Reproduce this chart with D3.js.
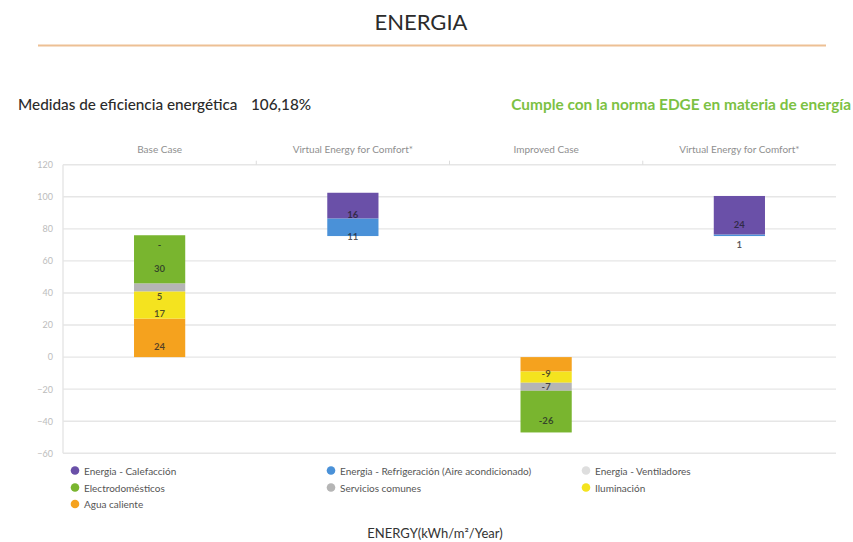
<!DOCTYPE html>
<html>
<head>
<meta charset="utf-8">
<script src="https://cdn.jsdelivr.net/npm/d3@7"></script>
<style>
  html, body { margin: 0; padding: 0; background: #fff; }
  svg { display: block; }
  text { font-family: Lato, "Open Sans", sans-serif; }
</style>
</head>
<body>
<svg id="chart" width="853" height="542"></svg>
<script>
// Categories shown across the top of the plot
const categories = ["Base Case", "Virtual Energy for Comfort*", "Improved Case", "Virtual Energy for Comfort*"];

// Invisible starting level of each column (kWh/m²/Year)
const columnBase = [0, 75.5, 0, 75.5];

// Series values per column (null = no segment)
const aguaCaliente      = [24, null, -9, null];
const iluminacion       = [17, null, -7, null];
const serviciosComunes  = [5, null, -5, null];
const electrodomesticos = [30, null, -26, null];
const ventiladores      = [0, null, null, null];
const refrigeracion     = [null, 11, null, 1];
const calefaccion       = [null, 16, null, 24];

const seriesNames = [
  "Agua caliente", "Iluminación", "Servicios comunes", "Electrodomésticos",
  "Energía - Ventiladores", "Energía - Refrigeración (Aire acondicionado)", "Energía - Calefacción"
];
const seriesValues = [aguaCaliente, iluminacion, serviciosComunes, electrodomesticos,
                      ventiladores, refrigeracion, calefaccion];
const seriesColors = ["#f5a21e", "#f4e31f", "#b5b5b5", "#79b52f", "#dedede", "#4a91d8", "#6a50a8"];

// Segments whose value is not printed
const unlabelled = [["Servicios comunes", 2]];

// Y axis ticks
const yTicks = [-60, -40, -20, 0, 20, 40, 60, 80, 100, 120];

// Legend layout (three columns)
const legendRows = [
  ["Energía - Calefacción", "Energía - Refrigeración (Aire acondicionado)", "Energía - Ventiladores"],
  ["Electrodomésticos", "Servicios comunes", "Iluminación"],
  ["Agua caliente"]
];
const legendLabels = {
  "Energía - Calefacción": "Energia - Calefacción",
  "Energía - Refrigeración (Aire acondicionado)": "Energia - Refrigeración (Aire acondicionado)",
  "Energía - Ventiladores": "Energia - Ventiladores"
};

const svg = d3.select("#chart");

// Header
svg.append("text").attr("x", 421).attr("y", 30).attr("text-anchor", "middle")
  .attr("font-size", 22).attr("fill", "#2b2b2b").text("ENERGIA");
svg.append("line").attr("x1", 38).attr("x2", 826).attr("y1", 45.5).attr("y2", 45.5)
  .attr("stroke", "#edc094").attr("stroke-width", 2);

svg.append("text").attr("x", 18).attr("y", 110).attr("font-size", 15.3).attr("fill", "#2b2b2b")
  .attr("font-weight", 500)
  .text("Medidas de eficiencia energética");
svg.append("text").attr("x", 251).attr("y", 110).attr("font-size", 15.3).attr("fill", "#2b2b2b")
  .attr("font-weight", 500)
  .text("106,18%");
svg.append("text").attr("x", 851).attr("y", 110).attr("text-anchor", "end")
  .attr("font-size", 15.4).attr("font-weight", 700).attr("fill", "#7cc143")
  .text("Cumple con la norma EDGE en materia de energía");

// Scales
const plotLeft = 63, plotRight = 836, plotTop = 164.7, plotBottom = 453.3;
const x = d3.scaleBand().domain(d3.range(categories.length)).range([plotLeft, plotRight]).padding(0);
const y = d3.scaleLinear().domain([-60, 120]).range([plotBottom, plotTop]);
const barW = x.bandwidth() * 0.265;

// Grid lines
svg.append("g").selectAll("line").data(yTicks).join("line")
  .attr("x1", plotLeft).attr("x2", plotRight)
  .attr("y1", d => y(d)).attr("y2", d => y(d))
  .attr("stroke", "#e6e6e6").attr("stroke-width", 1.4);
svg.append("line").attr("x1", plotLeft).attr("x2", plotLeft).attr("y1", plotTop).attr("y2", plotBottom)
  .attr("stroke", "#e6e6e6").attr("stroke-width", 1.4);

// Y axis
const yAxis = svg.append("g").attr("transform", `translate(${plotLeft - 10},0)`)
  .call(d3.axisLeft(y).tickValues(yTicks).tickSize(0).tickPadding(0));
yAxis.select(".domain").remove();
yAxis.selectAll("text").attr("font-size", 9).attr("fill", "#bcbcbc")
  .attr("font-family", "Lato, sans-serif");

// Top category axis
const xAxis = svg.append("g").attr("transform", `translate(0,${plotTop})`)
  .call(d3.axisTop(x).tickFormat(i => categories[i]).tickSize(0).tickPadding(12));
xAxis.select(".domain").remove();
xAxis.selectAll("text").attr("font-size", 10).attr("fill", "#8f8f8f")
  .attr("font-family", "Lato, sans-serif");
// small separators between categories
svg.append("g").selectAll("line").data(d3.range(1, categories.length)).join("line")
  .attr("x1", i => x(i)).attr("x2", i => x(i)).attr("y1", plotTop - 4).attr("y2", plotTop)
  .attr("stroke", "#dcdcdc");

// Stack
const rows = categories.map((c, i) => {
  const r = { idx: i, base: columnBase[i] };
  seriesNames.forEach((n, k) => { r[n] = seriesValues[k][i] == null ? 0 : seriesValues[k][i]; });
  return r;
});
const stack = d3.stack().keys(["base", ...seriesNames]).offset(d3.stackOffsetDiverging);
const stacked = stack(rows);

const color = d3.scaleOrdinal().domain(seriesNames).range(seriesColors);

const barsG = svg.append("g");
const labelsG = svg.append("g");
stacked.forEach((s, si) => {
  if (s.key === "base") return;
  const k = seriesNames.indexOf(s.key);
  s.forEach((seg, i) => {
    const v = seriesValues[k][i];
    if (v == null) return;
    let lo = seg[0], hi = seg[1];
    if (v === 0) {
      // an empty segment sits on top of the positive stack below it
      const topSoFar = d3.max(stacked.slice(0, si), p => p[i][1]);
      lo = hi = topSoFar;
    }
    const y0 = y(lo), y1 = y(hi);
    const cx = x(i) + x.bandwidth() / 2;
    if (v !== 0) {
      barsG.append("rect")
        .attr("x", cx - barW / 2).attr("width", barW)
        .attr("y", Math.min(y0, y1)).attr("height", Math.abs(y1 - y0))
        .attr("fill", color(s.key));
    }
    if (unlabelled.some(u => u[0] === s.key && u[1] === i)) return;
    labelsG.append("text")
      .attr("x", cx).attr("y", (y0 + y1) / 2 + 9)
      .attr("text-anchor", "middle").attr("dominant-baseline", "central")
      .attr("font-size", 9.5).attr("font-weight", 700)
      .attr("fill", "rgba(30,30,40,0.75)")
      .text(v === 0 ? "-" : String(v));
  });
});

// Legend
const legendCols = [75, 331, 586];
const legendY = [470.5, 487.5, 504];
const legend = svg.append("g");
legendRows.forEach((row, r) => {
  row.forEach((name, c) => {
    const g = legend.append("g").attr("transform", `translate(${legendCols[c]},${legendY[r]})`);
    g.append("circle").attr("r", 4.3).attr("fill", color(name));
    g.append("text").attr("x", 9).attr("dominant-baseline", "central")
      .attr("font-size", 10).attr("fill", "#555")
      .text(legendLabels[name] || name);
  });
});

// X axis title
svg.append("text").attr("x", 435).attr("y", 538).attr("text-anchor", "middle")
  .attr("font-size", 13).attr("fill", "#333")
  .text("ENERGY(kWh/m²/Year)");
</script>
</body>
</html>
